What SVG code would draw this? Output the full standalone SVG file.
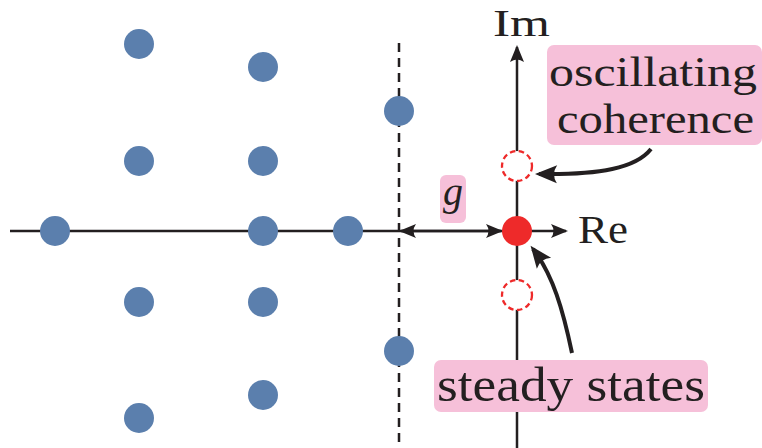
<svg xmlns="http://www.w3.org/2000/svg" width="762" height="448" viewBox="0 0 762 448">
<style>
.ax{stroke:#231f20;stroke-width:2.5;fill:none}
.cv{stroke:#231f20;stroke-width:4;fill:none}
.dash{stroke:#231f20;stroke-width:2.5;stroke-dasharray:9 6;fill:none}
.ev{fill:#5b7fad}
.ss{fill:#ee2a2a}
.oc{fill:#fff;stroke:#ee2a2a;stroke-width:2.3;stroke-dasharray:5.5 3.5}
.lb{fill:#f6c0d9}
.t{font-family:"Liberation Serif","DejaVu Serif",serif;fill:#231f20}
</style>
<defs>
<marker id="ah" markerUnits="userSpaceOnUse" markerWidth="18" markerHeight="14" refX="15" refY="7" orient="auto-start-reverse" overflow="visible">
<path d="M17,7 L0,0 Q5,7 0,14 Z" fill="#231f20"/>
</marker>
<marker id="ahb" markerUnits="userSpaceOnUse" markerWidth="23" markerHeight="18" refX="18" refY="9" orient="auto" overflow="visible">
<path d="M22,9 L0,0 Q6,9 0,18 Z" fill="#231f20"/>
</marker>
</defs>
<g id="connectors">
<line class="dash" x1="399" y1="43" x2="399" y2="448"/>
<line class="ax" x1="10" y1="231" x2="566" y2="231" marker-end="url(#ah)"/>
<line class="ax" x1="517" y1="448" x2="517" y2="47" marker-end="url(#ah)"/>
<line class="ax" x1="401" y1="231" x2="501" y2="231" marker-start="url(#ah)" marker-end="url(#ah)"/>
</g>
<g id="eigenvalues">
<circle class="ev" cx="139" cy="44" r="15"/>
<circle class="ev" cx="263" cy="67" r="15"/>
<circle class="ev" cx="399" cy="111" r="15"/>
<circle class="ev" cx="139" cy="161" r="15"/>
<circle class="ev" cx="263" cy="161" r="15"/>
<circle class="ev" cx="55" cy="231" r="15"/>
<circle class="ev" cx="263" cy="231" r="15"/>
<circle class="ev" cx="348" cy="231" r="15"/>
<circle class="ev" cx="139" cy="302" r="15"/>
<circle class="ev" cx="263" cy="302" r="15"/>
<circle class="ev" cx="399" cy="351" r="15"/>
<circle class="ev" cx="263" cy="395" r="15"/>
<circle class="ev" cx="139" cy="418" r="15"/>
</g>
<g id="steady-state">
<circle class="ss" cx="517" cy="231" r="15"/>
</g>
<g id="coherence-points">
<circle class="oc" cx="517" cy="166" r="15"/>
<circle class="oc" cx="517" cy="295" r="15"/>
</g>
<g id="axis-labels">
<text class="t" x="493" y="36" font-size="38" textLength="57" lengthAdjust="spacingAndGlyphs">Im</text>
<text class="t" x="578" y="243" font-size="40" textLength="50" lengthAdjust="spacingAndGlyphs">Re</text>
</g>
<g id="gap-label">
<rect class="lb" x="440" y="175" width="26" height="48" rx="6"/>
<text class="t" x="453" y="205" font-size="40" font-style="italic" text-anchor="middle">g</text>
</g>
<g id="oscillating-coherence-label">
<rect class="lb" x="547" y="45" width="215" height="100" rx="7"/>
<text class="t" x="549" y="86" font-size="42" textLength="208" lengthAdjust="spacingAndGlyphs">oscillating</text>
<text class="t" x="557" y="133" font-size="42" textLength="197" lengthAdjust="spacingAndGlyphs">coherence</text>
</g>
<g id="steady-states-label">
<rect class="lb" x="434" y="360" width="274" height="52" rx="7"/>
<text class="t" x="437" y="401" font-size="48" textLength="268" lengthAdjust="spacingAndGlyphs">steady states</text>
</g>
<g id="pointers">
<path class="cv" d="M651,149 C636,168 600,175 539,174" marker-end="url(#ahb)"/>
<path class="cv" d="M572,353 C563,310 553,275 533,249" marker-end="url(#ahb)"/>
</g>
</svg>
